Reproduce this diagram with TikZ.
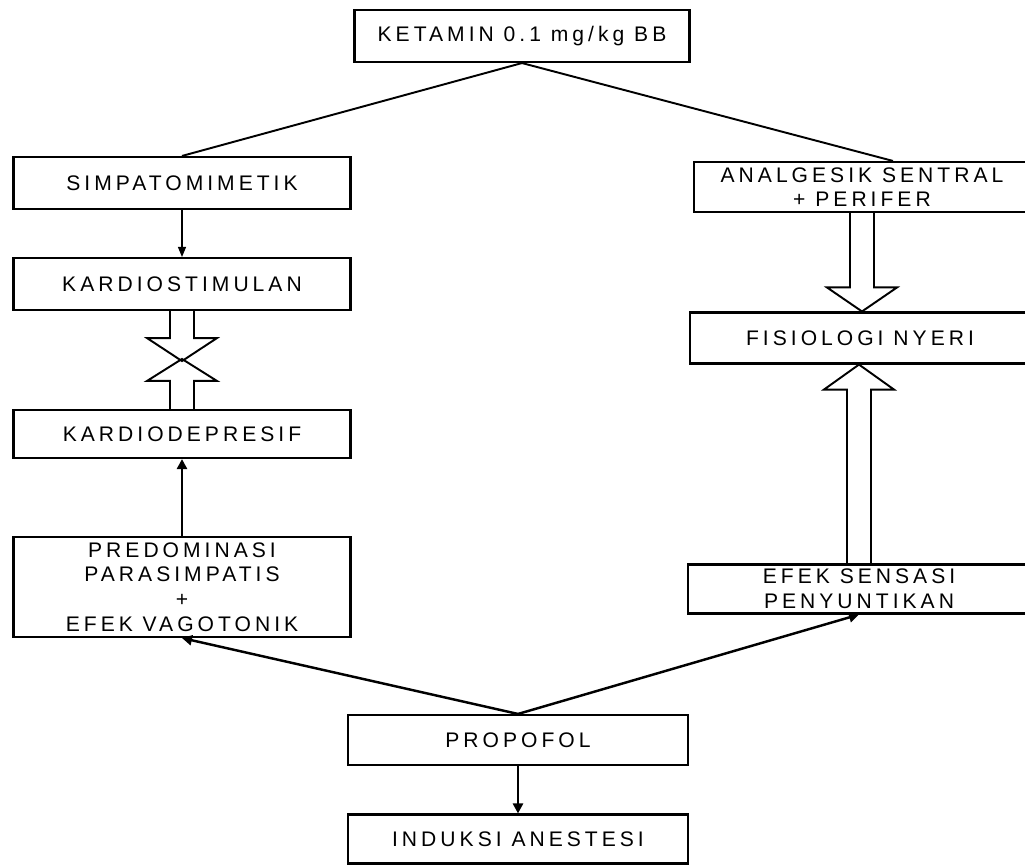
\documentclass[tikz,border=0pt]{standalone}
\usepackage{fontspec}
\setmainfont{Liberation Sans}[LetterSpace=19]
\usetikzlibrary{arrows.meta,calc}

\begin{document}
\begin{tikzpicture}[x=0.02cm,y=-0.02cm,
  kotak/.style={draw,line width=1.2pt,align=center,inner sep=0pt,
    font=\fontsize{12}{14}\selectfont},
  garis/.style={line width=1.1pt},
  panah/.style={line width=1.4pt,-{Triangle[length=2mm,width=2mm]}},
  panahtipis/.style={line width=0.6pt,-{Triangle[length=2mm,width=1.6mm]}},
  panahkosong/.style={line width=1.1pt,line join=miter}]
\useasboundingbox (0,0) rectangle (1025,866);
\fill[white] (0,0) rectangle (1025,866);
% kotak-kotak
\node[kotak,minimum width=6.7cm,minimum height=1.04cm] (ketamin) at (522,36) {KETAMIN 0.1 mg/kg BB};
\node[kotak,minimum width=6.74cm,minimum height=1.04cm] (simpato) at (182,183) {SIMPATOMIMETIK};
\node[kotak,minimum width=6.74cm,minimum height=1.04cm] (stimulan) at (182,284) {KARDIOSTIMULAN};
\node[kotak,minimum width=6.74cm,minimum height=0.96cm] (depresif) at (182,434) {KARDIODEPRESIF};
\node[kotak,minimum width=6.74cm,minimum height=2cm] (parasimp) at (182,587)
  {PREDOMINASI\\PARASIMPATIS\\+\\EFEK VAGOTONIK};
\node[kotak,minimum width=6.72cm,minimum height=1cm] (analgesik) at (862,187) {ANALGESIK SENTRAL\\+ PERIFER};
\node[kotak,minimum width=6.8cm,minimum height=1.02cm] (fisiologi) at (860,338) {FISIOLOGI NYERI};
\node[kotak,minimum width=6.84cm,minimum height=0.98cm] (sensasi) at (859,589) {EFEK SENSASI\\PENYUNTIKAN};
\node[kotak,minimum width=6.8cm,minimum height=1cm] (propofol) at (518,740) {PROPOFOL};
\node[kotak,minimum width=6.8cm,minimum height=0.98cm] (induksi) at (518,839) {INDUKSI ANESTESI};
% garis dan panah
\draw[garis] (ketamin.south) -- (simpato.north);
\draw[garis] (ketamin.south) -- ([xshift=0.62cm]analgesik.north);
\draw[panahtipis] (simpato.south) -- (stimulan.north);
\draw[panah] (parasimp.north) -- (depresif.south);
\draw[panah] (propofol.north) -- (parasimp.south);
\draw[panah] (propofol.north) -- (sensasi.south);
\draw[panah] (propofol.south) -- (induksi.north);
% panah kosong (saling berlawanan)
\draw[panahkosong] ($(stimulan.south)+(-12,0)$) -- ++(0,27) -- ++(-23,0) -- ($(stimulan.south)+(0,50)$)
  -- ($(stimulan.south)+(35,27)$) -- ++(-23,0) -- ($(stimulan.south)+(12,0)$);
\draw[panahkosong] ($(depresif.north)+(-12,0)$) -- ++(0,-28) -- ++(-23,0) -- ($(depresif.north)+(0,-50)$)
  -- ($(depresif.north)+(35,-28)$) -- ++(-23,0) -- ($(depresif.north)+(12,0)$);
\draw[panahkosong] ($(analgesik.south)+(-12,0)$) -- ($(analgesik.south |- fisiologi.north)+(-12,-24)$)
  -- ++(-23,0) -- (analgesik.south |- fisiologi.north) -- ++(35,-24) -- ++(-23,0) -- ($(analgesik.south)+(12,0)$);
\draw[panahkosong] ($(sensasi.north)+(-12,0)$) -- ($(sensasi.north |- fisiologi.south)+(-12,25)$)
  -- ++(-23,0) -- (sensasi.north |- fisiologi.south) -- ++(35,25) -- ++(-23,0) -- ($(sensasi.north)+(12,0)$);
\end{tikzpicture}
\end{document}
